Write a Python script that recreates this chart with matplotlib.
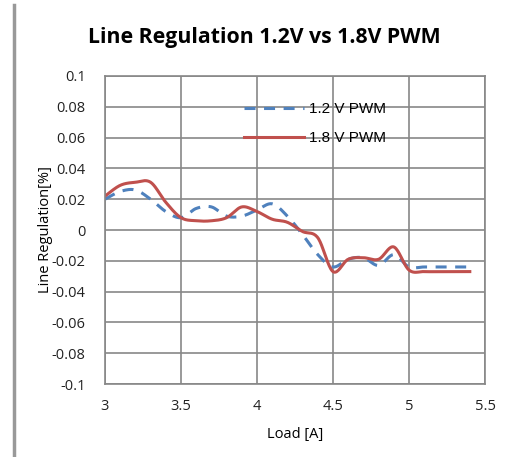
import numpy as np
import matplotlib.pyplot as plt
from matplotlib.lines import Line2D

# data
load = [3.0, 3.1, 3.2, 3.3, 3.4, 3.5, 3.6, 3.7, 3.8, 3.9, 4.0, 4.1, 4.2,
        4.3, 4.4, 4.5, 4.6, 4.7, 4.8, 4.9, 5.0, 5.1, 5.2, 5.3, 5.4]
reg_12 = [0.020, 0.025, 0.026, 0.020, 0.012, 0.008, 0.014, 0.015, 0.009, 0.009,
          0.013, 0.017, 0.009, -0.003, -0.016, -0.024, -0.019, -0.018, -0.023,
          -0.016, -0.024, -0.024, -0.024, -0.024, -0.024]
reg_18 = [0.022, 0.029, 0.031, 0.031, 0.018, 0.008, 0.006, 0.006, 0.008, 0.015,
          0.012, 0.007, 0.005, -0.001, -0.005, -0.027, -0.019, -0.018, -0.019,
          -0.011, -0.026, -0.027, -0.027, -0.027, -0.027]
names = ["1.2 V PWM", "1.8 V PWM"]
xticks = [3, 3.5, 4, 4.5, 5, 5.5]
yticks = [-0.1, -0.08, -0.06, -0.04, -0.02, 0, 0.02, 0.04, 0.06, 0.08, 0.1]
ylabels = ["-0.1", "-0.08", "-0.06", "-0.04", "-0.02", "0", "0.02", "0.04",
           "0.06", "0.08", "0.1"]


def smooth(x, y, n=20):
    # Catmull-Rom style smoothing like Excel's "smoothed line"
    x = np.asarray(x, float)
    y = np.asarray(y, float)
    px = np.concatenate(([x[0]], x, [x[-1]]))
    py = np.concatenate(([y[0]], y, [y[-1]]))
    t = np.linspace(0, 1, n, endpoint=False)
    xs, ys = [], []
    for i in range(1, len(px) - 2):
        for p, out in ((px, xs), (py, ys)):
            p0, p1, p2, p3 = p[i - 1], p[i], p[i + 1], p[i + 2]
            c1 = p1 + (p2 - p0) / 6
            c2 = p2 - (p3 - p1) / 6
            out.extend((1 - t) ** 3 * p1 + 3 * (1 - t) ** 2 * t * c1
                       + 3 * (1 - t) * t ** 2 * c2 + t ** 3 * p2)
    xs.append(x[-1])
    ys.append(y[-1])
    return xs, ys


fig = plt.figure(figsize=(5.06, 4.57), dpi=100)
ax = fig.add_axes([0.2075, 0.1597, 0.751, 0.674])

gc = "#878787"
fnt = "Open Sans"
x1, y1 = smooth(load, reg_12)
x2, y2 = smooth(load, reg_18)
ax.plot(x1, y1, color="#4F81BD", lw=2.2, dashes=(3.6, 2.8), label=names[0])
ax.plot(x2, y2, color="#C0504D", lw=2.2, label=names[1])

ax.set_xlim(3, 5.5)
ax.set_ylim(-0.1, 0.1)
ax.set_xticks(xticks)
ax.set_xticklabels([str(v) for v in xticks], fontfamily=fnt, fontsize=10.5)
ax.set_yticks(yticks)
ax.set_yticklabels(ylabels, fontfamily=fnt, fontsize=10.5)
ax.tick_params(length=0, pad=14, colors="#222222")
ax.tick_params(axis="x", pad=11)
ax.grid(True, color=gc, lw=1.2)
for s in ax.spines.values():
    s.set_color(gc)
    s.set_linewidth(1.2)

ax.set_xlabel("Load [A]", fontfamily=fnt, fontsize=10.5, labelpad=9)
ax.set_ylabel("Line Regulation[%]", fontfamily=fnt, fontsize=10.5, labelpad=-1)
fig.text(0.522, 0.918, "Line Regulation 1.2V vs 1.8V PWM", ha="center",
         va="center", fontfamily=fnt, fontweight="bold", fontsize=15.3)

leg = ax.legend(loc="upper left", bbox_to_anchor=(0.33, 0.96), frameon=False,
                prop={"family": "Liberation Sans", "size": 11},
                handlelength=3.9, handletextpad=0.35, labelspacing=1.0)

fig.add_artist(Line2D([0.028, 0.028], [0.0, 0.99], color="#999999", lw=2.5))

fig.savefig("out.png", dpi=100)
